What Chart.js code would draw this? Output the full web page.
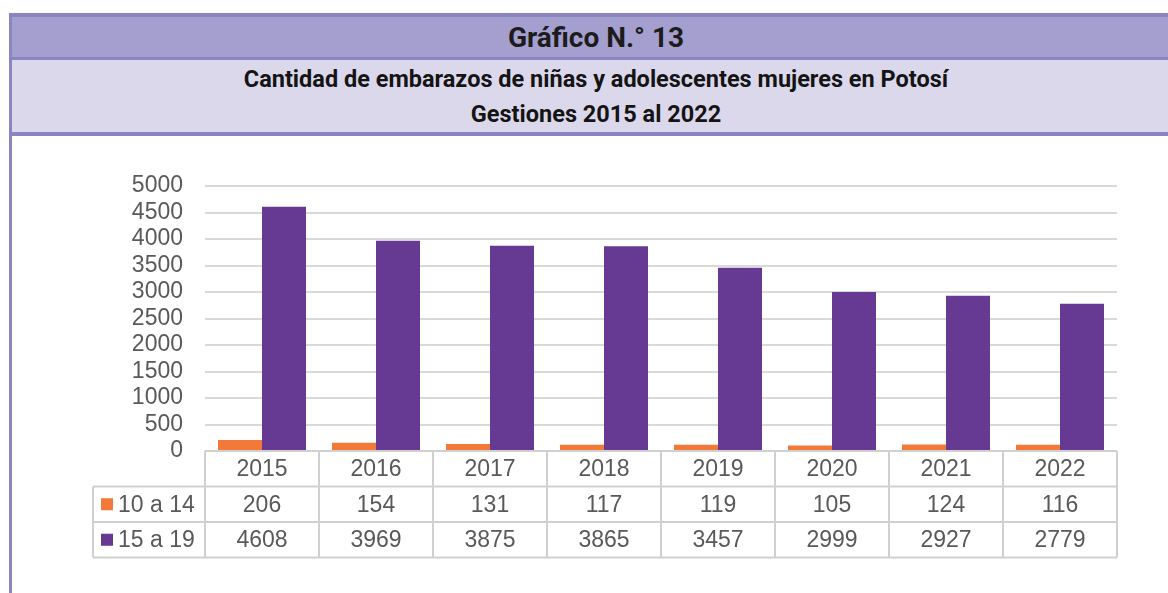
<html>
  <head>
    <title>Gráfico N.° 13</title>
    <script src="https://cdn.jsdelivr.net/npm/chart.js"></script>
    <style>
      body { margin:0; width:1168px; height:593px; overflow:hidden; background:#fff; position:relative; }
      #frame { position:absolute; left:9px; top:13px; width:1174px; border-top:4px solid #8a84c0; }
      #leftline { position:absolute; left:9px; top:13px; width:3px; height:580px; background:#8a84c0; }
      #titulo { height:40px; background:#a59fcf; border-bottom:3px solid #8a84c0; text-align:center;
        font-family:Roboto; font-weight:bold; font-size:28px; line-height:41px; color:#1c1c1c; }
      #sub { height:72px; background:#dcd8ec; border-bottom:4px solid #8a84c0; text-align:center;
        font-family:Roboto; font-weight:bold; font-size:23.5px; color:#141414; }
      #sub div { height:35px; line-height:39px; }
      #wrap { position:absolute; left:0; top:0; width:1168px; height:593px; }
    </style>
  </head>
  <body>
    <div id="frame">
      <div id="titulo">Gráfico N.° 13</div>
      <div id="sub"><div>Cantidad de embarazos de niñas y adolescentes mujeres en Potosí</div><div>Gestiones 2015 al 2022</div></div>
    </div>
    <div id="leftline"></div>
    <div id="wrap"><canvas id="myChart"></canvas></div>

  <script>
    // datos
    let years = ["2015","2016","2017","2018","2019","2020","2021","2022"];
    let ninas = [206,154,131,117,119,105,124,116];        // 10 a 14
    let adolescentes = [4608,3969,3875,3865,3457,2999,2927,2779]; // 15 a 19
    let serieNames = ["10 a 14","15 a 19"];
    let colors = ["#f37939","#663a93"];

    const gray = "#595959";
    const lineCol = "#d0d0d0";
    const font = "23px 'Liberation Sans', Arial";

    // data table under the plot, drawn from the x scale
    const tablePlugin = {
      id: "tabla",
      afterDraw(chart) {
        const ctx = chart.ctx;
        const x = chart.scales.x;
        const area = chart.chartArea;
        const w = (area.right - area.left) / years.length;
        const rowH = 35.5;
        const top = area.bottom;
        const labelLeft = 93;
        ctx.save();
        ctx.strokeStyle = lineCol;
        ctx.lineWidth = 2;
        // horizontal lines
        ctx.beginPath();
        ctx.moveTo(area.left, top); ctx.lineTo(area.right, top);
        for (let r = 1; r <= 3; r++) {
          ctx.moveTo(labelLeft, top + r*rowH); ctx.lineTo(area.right, top + r*rowH);
        }
        // vertical lines
        for (let i = 0; i <= years.length; i++) {
          let px = area.left + i*w;
          ctx.moveTo(px, top); ctx.lineTo(px, top + 3*rowH);
        }
        ctx.moveTo(labelLeft, top + rowH); ctx.lineTo(labelLeft, top + 3*rowH);
        ctx.stroke();

        ctx.fillStyle = gray;
        ctx.font = font;
        ctx.textAlign = "center";
        ctx.textBaseline = "middle";
        years.forEach((y, i) => {
          let cx = x.getPixelForValue(i);
          ctx.fillText(y, cx, top + rowH/2 + 1);
          ctx.fillText(String(ninas[i]), cx, top + rowH*1.5 + 1);
          ctx.fillText(String(adolescentes[i]), cx, top + rowH*2.5 + 1);
        });
        // legend keys
        ctx.textAlign = "left";
        serieNames.forEach((n, r) => {
          let cy = top + rowH*(1.5 + r);
          ctx.fillStyle = colors[r];
          ctx.fillRect(101, cy - 6, 12, 12);
          ctx.fillStyle = gray;
          ctx.fillText(n, 118, cy + 1);
        });
        ctx.restore();
      }
    };

    const data = {
      labels: years,
      datasets: [
        { label: serieNames[0], data: ninas, backgroundColor: colors[0] },
        { label: serieNames[1], data: adolescentes, backgroundColor: colors[1] }
      ]
    };

    const config = {
      type: "bar",
      data: data,
      options: {
        responsive: false,
        animation: false,
        layout: { padding: { left: 0, right: 51, top: 186, bottom: 142 } },
        datasets: { bar: { categoryPercentage: 0.772, barPercentage: 1 } },
        plugins: { legend: { display: false }, tooltip: { enabled: false } },
        scales: {
          x: {
            ticks: { display: false },
            grid: { display: false, drawTicks: false },
            border: { display: false }
          },
          y: {
            min: 0, max: 5000,
            ticks: { stepSize: 500, autoSkip: false, color: gray, padding: 22,
              font: { family: "'Liberation Sans', Arial", size: 23 },
              callback: v => String(v) },
            grid: { color: "#d9d9d9", lineWidth: 2, drawTicks: false },
            border: { display: false },
            afterFit(scale) { scale.width = 205; }
          }
        }
      },
      plugins: [tablePlugin]
    };

    const cv = document.getElementById("myChart");
    cv.width = 1168; cv.height = 593;
    window.myChart = new Chart(cv, config);
  </script>
  </body>
</html>
